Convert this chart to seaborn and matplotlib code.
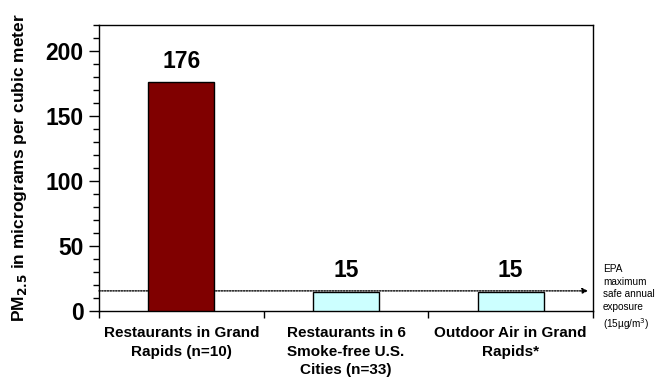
import matplotlib
matplotlib.use("Agg")
import matplotlib.pyplot as plt
from matplotlib.ticker import MultipleLocator, FixedLocator
import pandas as pd
import seaborn as sns

# data
places = ["Restaurants in Grand\nRapids (n=10)",
          "Restaurants in 6\nSmoke-free U.S.\nCities (n=33)",
          "Outdoor Air in Grand\nRapids*"]
pm25 = [176, 15, 15]
bar_colors = ["#800000", "#CCFFFF", "#CCFFFF"]
epa_limit = 15

sns.set_style("white")
plt.rcParams['font.family'] = ['Liberation Sans', 'DejaVu Sans']
plt.rcParams.update({"text.color": "black", "axes.labelcolor": "black",
                     "xtick.color": "black", "ytick.color": "black"})

df = pd.DataFrame({"place": places, "pm": pm25})

fig = plt.figure(figsize=(6.62, 3.84), dpi=100)
ax = fig.add_axes([0.1495, 0.19, 0.7463, 0.745])

sns.barplot(data=df, x="place", y="pm", hue="place", order=places,
            palette=bar_colors, legend=False, width=0.4,
            edgecolor="black", linewidth=1.0, saturation=1, ax=ax, zorder=3)

# EPA reference line with arrow
ax.annotate("", xy=(2.47, epa_limit + 0.5), xytext=(-0.5, epa_limit + 0.5),
            arrowprops=dict(arrowstyle="-|>", linestyle=(0, (1, 1)), color="black",
                            lw=1.0, mutation_scale=8, shrinkA=0, shrinkB=0),
            zorder=2)

for i, v in enumerate(pm25):
    ax.text(i, v + 7, str(v), ha="center", va="bottom", fontsize=16.5, fontweight="bold")

ax.text(1.02, 0.165, "EPA\nmaximum\nsafe annual\nexposure\n(15\u00b5g/m$^3$)",
        transform=ax.transAxes, ha="left", va="top", fontsize=7.2, linespacing=1.35)

ax.set_xlim(-0.5, 2.5)
ax.set_ylim(0, 220)
ax.yaxis.set_major_locator(FixedLocator([0, 50, 100, 150, 200]))
ax.yaxis.set_minor_locator(MultipleLocator(10))
ax.tick_params(axis="y", which="major", left=True, length=7, width=1, labelsize=16.5, pad=4)
ax.tick_params(axis="y", which="minor", left=True, length=4, width=1)
for lab in ax.get_yticklabels():
    lab.set_fontweight("bold")

# category ticks at boundaries, labels at centers
ax.xaxis.set_major_locator(FixedLocator([-0.5, 0.5, 1.5, 2.5]))
ax.xaxis.set_minor_locator(FixedLocator([0, 1, 2]))
ax.set_xticklabels([""] * 4)
ax.set_xticklabels(places, minor=True, fontsize=11, fontweight="bold", linespacing=1.4)
ax.tick_params(axis="x", which="major", bottom=True, length=5, width=1)
ax.tick_params(axis="x", which="minor", bottom=False, length=0, pad=11)

ax.set_xlabel("")
ax.set_ylabel("PM$_{\\mathbf{2.5}}$ in micrograms per cubic meter", fontsize=12.5,
              fontweight="bold", labelpad=12)

for s in ax.spines.values():
    s.set_color("black")
    s.set_linewidth(1.0)

fig.savefig("out.png", dpi=100)
